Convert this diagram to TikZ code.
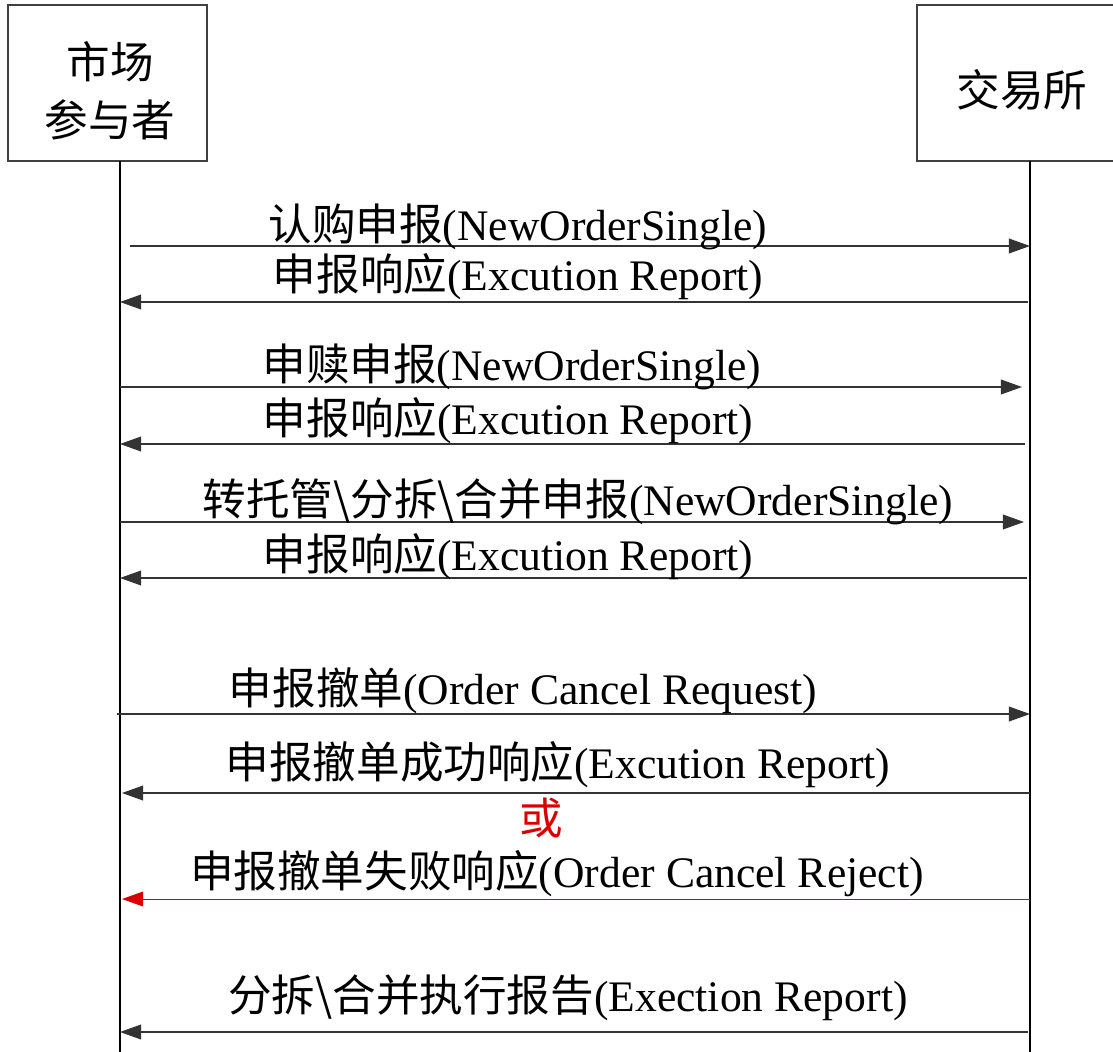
\documentclass[tikz,border=0pt]{standalone}
\usepackage{fontspec}
\setmainfont{Liberation Serif}
\newfontfamily\cjk{Noto Sans CJK SC}
\usetikzlibrary{arrows.meta,positioning}

\begin{document}
\begin{tikzpicture}[x=0.025cm,y=-0.025cm,
	font=\fontsize{31}{41}\selectfont,
	box/.style={draw=black!75,line width=1.2pt,inner sep=0pt},
	life/.style={draw=black,line width=1.7pt},
	msg/.style={draw=black!80,line width=1pt,-{Triangle[length=15pt,width=10.5pt]}},
	rmsg/.style={draw=red!85!black,line width=0.7pt,-{Triangle[length=15pt,width=10.5pt]}},
	lbl/.style={anchor=base,inner sep=0pt}]
	\useasboundingbox (0,0) rectangle (1113,1052);
	
	\node[box,minimum width=4.975cm,minimum height=3.9cm] (mp) at (107.5,83) {};
	\node[box,minimum width=5.65cm,minimum height=3.9cm] (ex) at (1030,83) {};
	\node[align=center] (mpt) at (110,91) {{\cjk 市场}\\{\cjk 参与者}};
	\node (ext) at (1022,90) {\cjk 交易所};
	
	\coordinate (mp0) at (120,161);
	\coordinate (mp1) at (120,1052);
	\coordinate (ex0) at (1030,161);
	\coordinate (ex1) at (1030,1052);
	\path (mp0) edge [life] (mp1);
	\path (ex0) edge [life] (ex1);
	
	\coordinate (a1) at (130,246);  \coordinate (b1) at (1030,246);
	\coordinate (a2) at (120,302);  \coordinate (b2) at (1028,302);
	\coordinate (a3) at (120,387);  \coordinate (b3) at (1022,387);
	\coordinate (a4) at (120,444);  \coordinate (b4) at (1025,444);
	\coordinate (a5) at (120,522);  \coordinate (b5) at (1024,522);
	\coordinate (a6) at (120,578);  \coordinate (b6) at (1027,578);
	\coordinate (a7) at (117,714);  \coordinate (b7) at (1030,714);
	\coordinate (a8) at (122,793);  \coordinate (b8) at (1030,793);
	\coordinate (a9) at (122,899);  \coordinate (b9) at (1030,899);
	\coordinate (a10) at (120,1032); \coordinate (b10) at (1028,1032);
	
	\path (a1) edge [msg] (b1);
	\path (b2) edge [msg] (a2);
	\path (a3) edge [msg] (b3);
	\path (b4) edge [msg] (a4);
	\path (a5) edge [msg] (b5);
	\path (b6) edge [msg] (a6);
	\path (a7) edge [msg] (b7);
	\path (b8) edge [msg] (a8);
	\path (b9) edge [rmsg] (a9);
	\path (b10) edge [msg] (a10);
	
	\node[lbl] (l1) at (518,240) {{\cjk 认购申报}(NewOrderSingle)};
	\node[lbl] (l2) at (518,290) {{\cjk 申报响应}(Excution Report)};
	\node[lbl] (l3) at (512,380) {{\cjk 申赎申报}(NewOrderSingle)};
	\node[lbl] (l4) at (508,434) {{\cjk 申报响应}(Excution Report)};
	\node[lbl] (l5) at (578,515) {{\cjk 转托管\textbackslash 分拆\textbackslash 合并申报}(NewOrderSingle)};
	\node[lbl] (l6) at (508,570) {{\cjk 申报响应}(Excution Report)};
	\node[lbl] (l7) at (523,704) {{\cjk 申报撤单}(Order Cancel Request)};
	\node[lbl] (l8) at (558,778) {{\cjk 申报撤单成功响应}(Excution Report)};
	\node[text=red!85!black] (or) at (541,818) {\cjk 或};
	\node[lbl] (l9) at (557,887) {{\cjk 申报撤单失败响应}(Order Cancel Reject)};
	\node[lbl] (l10) at (568,1011) {{\cjk 分拆\textbackslash 合并执行报告}(Exection Report)};
\end{tikzpicture}
\end{document}
